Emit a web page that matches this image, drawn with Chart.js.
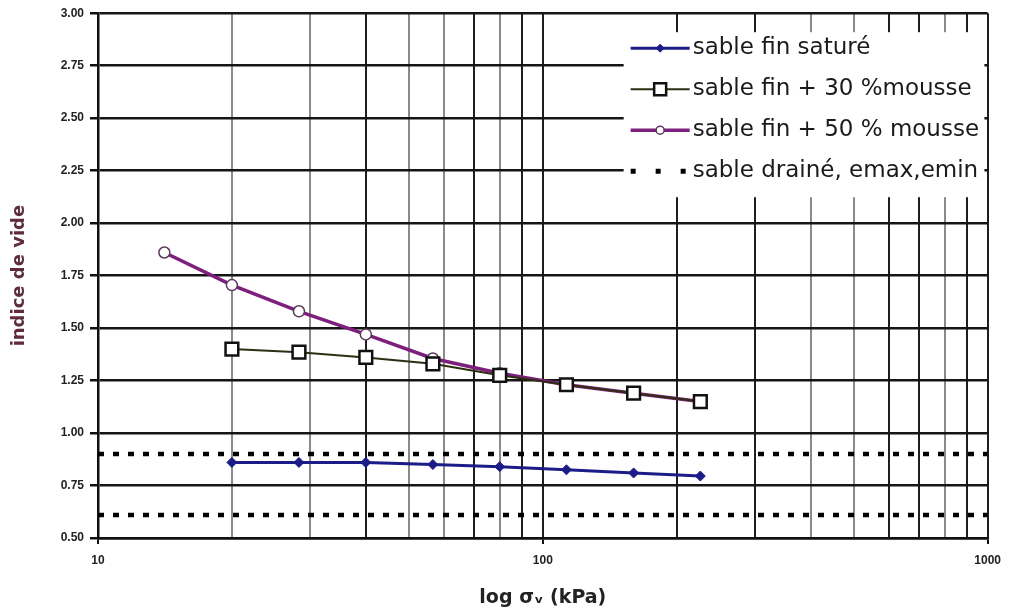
<!DOCTYPE html>
<html>
<head>
<meta charset="utf-8">
<script src="https://cdn.jsdelivr.net/npm/chart.js@4"></script>
<style>
  body { margin: 0; background: #fff; }
  #wrap { width: 1010px; height: 613px; }
</style>
</head>
<body>
<div id="wrap"><canvas id="chart" width="1010" height="613"></canvas></div>
<script>
// stress (kPa) and void index
const stressSat = [20, 28.3, 40, 56.6, 80, 113, 160, 226];
const voidSat = [0.86, 0.86, 0.86, 0.85, 0.84, 0.825, 0.81, 0.795];

const stress30 = [20, 28.3, 40, 56.6, 80, 113, 160, 226];
const void30 = [1.40, 1.385, 1.36, 1.33, 1.275, 1.23, 1.19, 1.15];

const stress50 = [14.1, 20, 28.3, 40, 56.6, 80, 113, 160, 226];
const void50 = [1.86, 1.705, 1.58, 1.47, 1.355, 1.285, 1.23, 1.19, 1.15];

const drainedRange = [10, 1000];
const eMax = 0.90;
const eMin = 0.61;

const seriesLabels = [
    'sable fin saturé',
    'sable fin + 30 %mousse',
    'sable fin + 50 % mousse',
    'sable drainé, emax,emin'
];

const xLabelTicks = [10, 100, 1000];
const yMin = 0.5, yMax = 3.0, yStep = 0.25;

function pts(xs, ys) {
    return xs.map((x, i) => ({ x, y: ys[i] }));
}

// vertical grid lines that come out darker in the original scan
const darkLines = [40, 70, 90, 100, 200, 300, 600, 700, 900, 1000];

const boxLegend = {
    id: 'boxLegend',
    afterDatasetsDraw(chart) {
        const { ctx, chartArea } = chart;
        const bx = chartArea.right - 364;
        const by = chartArea.top + 19;
        ctx.save();
        ctx.beginPath();
        ctx.rect(chartArea.left, chartArea.top, chartArea.right - chartArea.left - 3, chartArea.bottom - chartArea.top);
        ctx.clip();
        ctx.fillStyle = '#fff';
        ctx.fillRect(bx, by, 361, 165);

        const seen = {};
        let row = 0;
        chart.data.datasets.forEach(ds => {
            if (seen[ds.label]) return;
            seen[ds.label] = true;
            const y = by + 16 + row * 41;
            const x0 = bx + 7, x1 = bx + 66;
            ctx.save();
            ctx.strokeStyle = ds.borderColor;
            ctx.lineWidth = ds.legendDash ? 5 : ds.borderWidth;
            ctx.setLineDash(ds.legendDash || []);
            ctx.beginPath();
            ctx.moveTo(x0, y);
            ctx.lineTo(x1, y);
            ctx.stroke();
            ctx.setLineDash([]);
            const mx = (x0 + x1) / 2;
            if (ds.pointRadius > 0) {
                ctx.fillStyle = ds.pointBackgroundColor;
                ctx.strokeStyle = ds.pointBorderColor;
                ctx.lineWidth = ds.pointBorderWidth;
                ctx.beginPath();
                const r = ds.legendMarker;
                if (ds.pointStyle === 'rect') {
                    ctx.rect(mx - r, y - r, 2 * r, 2 * r);
                } else if (ds.pointStyle === 'rectRot') {
                    ctx.moveTo(mx, y - r); ctx.lineTo(mx + r, y);
                    ctx.lineTo(mx, y + r); ctx.lineTo(mx - r, y);
                    ctx.closePath();
                } else {
                    ctx.arc(mx, y, r, 0, Math.PI * 2);
                }
                ctx.fill();
                ctx.stroke();
            }
            ctx.restore();
            ctx.fillStyle = '#1a1a1a';
            ctx.font = '23px "DejaVu Sans"';
            ctx.textBaseline = 'middle';
            ctx.fillText(ds.label, bx + 69, y);
            row++;
        });
        ctx.restore();
    }
};

const ctx = document.getElementById('chart').getContext('2d');

new Chart(ctx, {
    type: 'line',
    data: {
        datasets: [
            {
                label: seriesLabels[0],
                data: pts(stressSat, voidSat),
                borderColor: '#1c1c88',
                borderWidth: 3,
                pointStyle: 'rectRot',
                pointRadius: 5,
                pointBackgroundColor: '#1c1c88',
                pointBorderColor: '#1c1c88',
                pointBorderWidth: 1,
                legendMarker: 4,
                order: 1
            },
            {
                label: seriesLabels[1],
                data: pts(stress30, void30),
                borderColor: '#2e2e12',
                borderWidth: 2,
                pointStyle: 'rect',
                pointRadius: 9,
                pointBackgroundColor: '#fff',
                pointBorderColor: '#111',
                pointBorderWidth: 2.5,
                legendMarker: 6,
                order: 2
            },
            {
                label: seriesLabels[2],
                data: pts(stress50, void50),
                borderColor: '#7d1f7d',
                borderWidth: 3.5,
                pointStyle: 'circle',
                pointRadius: 5.5,
                pointBackgroundColor: '#fff',
                pointBorderColor: '#5a3a5a',
                pointBorderWidth: 1.5,
                legendMarker: 4,
                order: 3
            },
            {
                label: seriesLabels[3],
                data: pts(drainedRange, [eMax, eMax]),
                borderColor: '#000',
                borderWidth: 4.5,
                borderDash: [6, 9],
                borderCapStyle: 'butt',
                pointRadius: 0,
                legendDash: [5, 20],
                order: 4
            },
            {
                label: seriesLabels[3],
                data: pts(drainedRange, [eMin, eMin]),
                borderColor: '#000',
                borderWidth: 4.5,
                borderDash: [6, 9],
                borderCapStyle: 'butt',
                pointRadius: 0,
                legendDash: [5, 20],
                order: 5
            }
        ]
    },
    options: {
        responsive: false,
        animation: false,
        layout: {
            padding: { top: 13, right: 18, left: 0, bottom: 0 }
        },
        plugins: {
            legend: { display: false },
            tooltip: { enabled: false }
        },
        scales: {
            x: {
                type: 'logarithmic',
                min: 10,
                max: 1000,
                afterBuildTicks: scale => {
                    const t = [];
                    for (let d = 10; d < 1000; d *= 10) {
                        for (let k = 1; k < 10; k++) t.push({ value: d * k });
                    }
                    t.push({ value: 1000 });
                    scale.ticks = t;
                },
                afterFit: scale => { scale.height = 75; },
                ticks: {
                    autoSkip: false,
                    maxRotation: 0,
                    padding: 9,
                    color: '#222',
                    font: { family: 'Liberation Sans', size: 12, weight: 'bold' },
                    callback: v => xLabelTicks.includes(v) ? String(v) : ''
                },
                grid: {
                    lineWidth: 2,
                    color: c => darkLines.includes(c.tick && c.tick.value) ? '#1e1e1e' : '#8a8a8a',
                    tickLength: 6,
                    tickColor: c => xLabelTicks.includes(c.tick && c.tick.value) ? '#111' : 'rgba(0,0,0,0)'
                },
                border: { color: '#111', width: 2.5 },
                title: {
                    display: true,
                    text: 'log σᵥ (kPa)',
                    color: '#222',
                    font: { family: 'DejaVu Sans', size: 19, weight: 'bold' },
                    padding: { top: 0, bottom: 4 }
                }
            },
            y: {
                min: yMin,
                max: yMax,
                afterFit: scale => { scale.width = 98; },
                ticks: {
                    stepSize: yStep,
                    padding: 6,
                    color: '#222',
                    font: { family: 'Liberation Sans', size: 12, weight: 'bold' },
                    callback: v => v.toFixed(2)
                },
                grid: {
                    lineWidth: 2.5,
                    color: '#151515',
                    tickLength: 8,
                    tickColor: '#111'
                },
                border: { color: '#111', width: 2.5 },
                title: {
                    display: true,
                    text: 'indice de vide',
                    color: '#5e2c3c',
                    font: { family: 'DejaVu Sans', size: 18, weight: 'bold' },
                    padding: { top: 9, bottom: 0 }
                }
            }
        }
    },
    plugins: [boxLegend]
});
</script>
</body>
</html>
